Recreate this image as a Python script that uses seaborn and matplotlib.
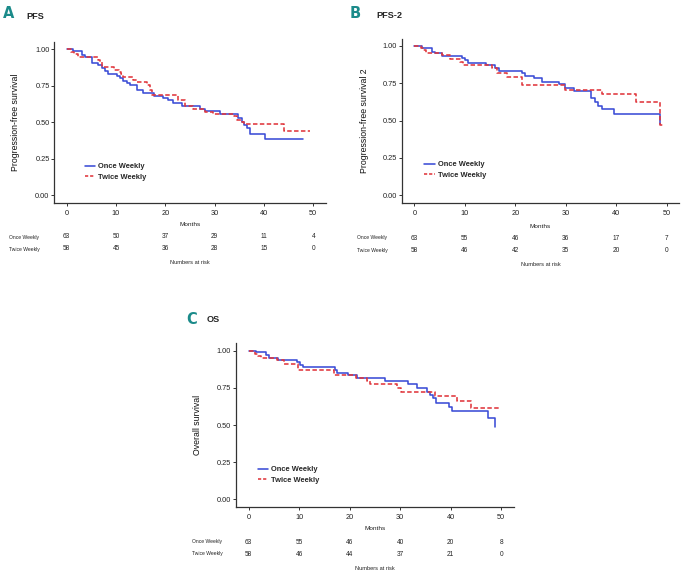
import numpy as np
import pandas as pd
import matplotlib.pyplot as plt
import matplotlib.transforms as mtransforms
from matplotlib.lines import Line2D
import seaborn as sns

# Kaplan-Meier step curves (months, survival)
pfs_once_t = [0, 1.35, 3.0, 3.7, 5.1, 6.4, 7.1, 7.8, 8.4, 10.1, 10.8, 11.5, 12.2, 12.8, 14.2, 15.5,
              17.6, 19.5, 20.5, 21.5, 23.3, 27.0, 28.1, 31.1, 34.8, 35.6, 36.0, 36.5, 37.2, 40.2, 48.0]
pfs_once_s = [1.0, 0.986, 0.963, 0.947, 0.908, 0.89, 0.872, 0.849, 0.833, 0.816, 0.80, 0.785, 0.77, 0.753,
              0.72, 0.70, 0.683, 0.666, 0.65, 0.634, 0.611, 0.591, 0.577, 0.557, 0.527, 0.504, 0.481,
              0.459, 0.418, 0.383, 0.383]
pfs_twice_t = [0, 0.8, 1.5, 2.2, 6.4, 6.8, 7.2, 9.5, 10.5, 11.1, 11.5, 13.5, 14.2, 16.2, 16.9, 17.2,
               22.6, 24.0, 25.7, 28.1, 29.7, 34.0, 34.6, 35.5, 36.0, 44.1, 49.3]
pfs_twice_s = [1.0, 0.983, 0.966, 0.948, 0.93, 0.91, 0.877, 0.86, 0.845, 0.828, 0.81, 0.79, 0.776, 0.758,
               0.72, 0.686, 0.655, 0.61, 0.589, 0.573, 0.555, 0.54, 0.516, 0.50, 0.486, 0.44, 0.44]

pfs2_once_t = [0, 1.6, 3.6, 4.0, 5.4, 9.4, 10.0, 10.7, 14.3, 16.0, 16.8, 21.3, 21.9, 23.8, 25.3, 28.7,
               29.8, 31.7, 35.0, 35.8, 36.4, 37.1, 39.6, 48.7]
pfs2_once_s = [1.0, 0.985, 0.96, 0.95, 0.935, 0.92, 0.905, 0.888, 0.87, 0.855, 0.835, 0.82, 0.80, 0.784,
               0.761, 0.743, 0.717, 0.699, 0.65, 0.627, 0.598, 0.576, 0.545, 0.475]
pfs2_twice_t = [0, 1.3, 1.8, 2.3, 5.4, 7.0, 9.0, 9.7, 15.3, 16.3, 18.3, 21.3, 29.8, 37.1, 44.0, 48.7, 49.3]
pfs2_twice_s = [1.0, 0.985, 0.97, 0.955, 0.94, 0.915, 0.895, 0.87, 0.855, 0.82, 0.795, 0.742, 0.705,
                0.678, 0.627, 0.47, 0.47]

os_once_t = [0, 1.5, 3.5, 3.95, 5.8, 9.6, 10.1, 10.7, 17.1, 17.6, 19.6, 21.4, 27.1, 31.6, 33.4, 35.3,
             36.0, 36.6, 37.2, 39.6, 40.3, 47.5, 48.8]
os_once_s = [1.0, 0.989, 0.971, 0.953, 0.94, 0.922, 0.906, 0.888, 0.872, 0.852, 0.835, 0.816, 0.798,
             0.774, 0.747, 0.724, 0.702, 0.68, 0.65, 0.623, 0.594, 0.545, 0.485]
os_twice_t = [0, 1.2, 1.8, 2.5, 5.6, 7.1, 9.7, 17.0, 21.2, 23.5, 24.1, 29.4, 30.1, 37.0, 41.3, 44.1, 49.5]
os_twice_s = [1.0, 0.98, 0.964, 0.948, 0.935, 0.912, 0.87, 0.837, 0.814, 0.795, 0.776, 0.751, 0.724,
              0.697, 0.661, 0.616, 0.616]

risk_months = [0, 10, 20, 30, 40, 50]
pfs_risk_once = [63, 50, 37, 29, 11, 4]
pfs_risk_twice = [58, 45, 36, 28, 15, 0]
pfs2_risk_once = [63, 55, 46, 36, 17, 7]
pfs2_risk_twice = [58, 46, 42, 35, 20, 0]
os_risk_once = [63, 55, 46, 40, 20, 8]
os_risk_twice = [58, 46, 44, 37, 21, 0]

groups = ["Once Weekly", "Twice Weekly"]
colors = {"Once Weekly": "#3b4cd6", "Twice Weekly": "#e0363c"}
teal = "#1b8b8a"

sns.set_style("ticks")
plt.rcParams['font.family'] = ['Liberation Sans', 'DejaVu Sans']

W, H = 686, 579
fig = plt.figure(figsize=(W / 100, H / 100), dpi=100)


def fy(py):
    return 1 - py / H


def panel(rect_px, letter, title, letter_xy, title_xy, ylabel, curves, risk, rows_y, row_lab_x,
          legend_xy, label_x):
    l, t, r, b = rect_px
    ax = fig.add_axes([l / W, fy(b), (r - l) / W, (b - t) / H])
    frames = []
    for g, (tt, ss) in zip(groups, curves):
        frames.append(pd.DataFrame({"month": tt, "surv": ss, "group": g}))
    df = pd.concat(frames, ignore_index=True)
    sns.lineplot(data=df, x="month", y="surv", hue="group", style="group", palette=colors,
                 dashes={"Once Weekly": "", "Twice Weekly": (2.8, 1.5)}, drawstyle="steps-post",
                 estimator=None, sort=False, legend=False, lw=1.15, ax=ax)
    ax.set_xlim(-2.5, 52.5)
    ax.set_ylim(-0.05, 1.05)
    ax.set_xticks([0, 10, 20, 30, 40, 50])
    ax.set_yticks([0, 0.25, 0.5, 0.75, 1.0])
    ax.set_yticklabels(["0.00", "0.25", "0.50", "0.75", "1.00"])
    ax.set_xlabel("")
    ax.set_ylabel(ylabel, fontsize=6.3, color="#111111")
    ax.yaxis.set_label_coords(label_x, 0.5)
    sns.despine(ax=ax)
    for s in ["left", "bottom"]:
        ax.spines[s].set_linewidth(0.9)
        ax.spines[s].set_color("#333333")
    ax.tick_params(direction="out", length=2, width=0.7, color="#333333", labelsize=5.3,
                   labelcolor="#222222", pad=1.5)
    ax.tick_params(axis="x", pad=3)

    handles = [Line2D([], [], color=colors["Once Weekly"], lw=1.15),
               Line2D([], [], color=colors["Twice Weekly"], lw=1.15, ls=(0, (2, 1.2)))]
    ax.legend(handles, groups, loc="center left", bbox_to_anchor=legend_xy, frameon=False,
              prop={"weight": "bold", "size": 5.4}, handlelength=1.4, handletextpad=0.35,
              labelspacing=0.45, borderpad=0, borderaxespad=0)

    # panel letter and title
    fig.text(letter_xy[0] / W, fy(letter_xy[1]), letter, color=teal, fontsize=10.5,
             fontweight="bold", family="Liberation Sans Narrow", va="center", ha="left")
    fig.text(title_xy[0] / W, fy(title_xy[1]), title, fontsize=6.6, fontweight="bold",
             va="center", ha="left")

    # months label and numbers-at-risk table
    cx = (l + r) / 2
    months_y, row1, row2, nar_y = rows_y
    fig.text(cx / W, fy(months_y), "Months", fontsize=4.6, ha="center", va="center", color="#222222")
    trans = mtransforms.blended_transform_factory(ax.transData, fig.transFigure)
    for yy, g, vals in [(row1, groups[0], risk[0]), (row2, groups[1], risk[1])]:
        fig.text(row_lab_x / W, fy(yy), g, fontsize=3.6, ha="left", va="center", color="#222222")
        for m, v in zip(risk_months, vals):
            ax.text(m, fy(yy), str(v), transform=trans, fontsize=4.7, ha="center", va="center",
                    color="#222222")
    fig.text(cx / W, fy(nar_y), "Numbers at risk", fontsize=4.1, ha="center", va="center", color="#222222")
    return ax


panel((54.4, 42, 325.6, 202.6), "A", "PFS", (3, 13.5), (26, 16.7), "Progression-free survival",
      [(pfs_once_t, pfs_once_s), (pfs_twice_t, pfs_twice_s)], [pfs_risk_once, pfs_risk_twice],
      (224, 237, 249, 263), 9, (0.112, 0.19), -0.125)

panel((401.7, 38.5, 679.3, 202.8), "B", "PFS-2", (349.5, 13.8), (376.5, 16), "Progression-free survival 2",
      [(pfs2_once_t, pfs2_once_s), (pfs2_twice_t, pfs2_twice_s)], [pfs2_risk_once, pfs2_risk_twice],
      (226, 238, 250, 264.7), 356.7, (0.082, 0.2), -0.118)

panel((236, 343.3, 513.7, 506.7), "C", "OS", (186, 319), (206.5, 319), "Overall survival",
      [(os_once_t, os_once_s), (os_twice_t, os_twice_s)], [os_risk_once, os_risk_twice],
      (529, 542, 554, 568.7), 191.7, (0.078, 0.194), -0.124)

fig.savefig("out.png", dpi=100)
